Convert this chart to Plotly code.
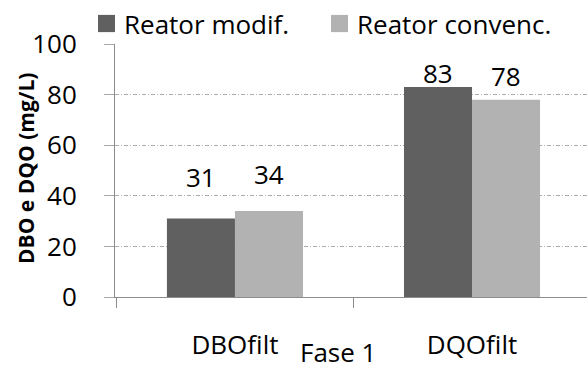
import plotly.graph_objects as go

# Filtered BOD / COD for the two reactors, phase 1
categories = ["DBOfilt", "DQOfilt"]
series_names = ["Reator modif.", "Reator convenc."]
series_colors = ["#606060", "#b2b2b2"]
reator_modif = [31, 83]
reator_convenc = [34, 78]
# vertical placement (data units) of the value labels, per series
label_y_modif = [47.6, 88.6]
label_y_convenc = [48.8, 87.4]
y_ticks = [0, 20, 40, 60, 80, 100]

FONT = "Open Sans"
TEXT = "#000000"
SIZE = 26
AXIS_GREY = "#8c8c8c"

fig = go.Figure()
for name, vals, col in zip(series_names, [reator_modif, reator_convenc], series_colors):
    fig.add_trace(go.Bar(name=name, x=categories, y=vals,
                         marker=dict(color=col, line=dict(width=0))))

# value labels above each bar
for vals, ys, shift in [(reator_modif, label_y_modif, -34),
                        (reator_convenc, label_y_convenc, 34)]:
    for cat, v, yy in zip(categories, vals, ys):
        fig.add_annotation(x=cat, y=yy, text=str(v), showarrow=False, xshift=shift,
                           yanchor="middle", font=dict(family=FONT, size=SIZE, color=TEXT))

# legend row drawn above the plot: square swatch + series name
legend_x = [(-0.036, 0.0), (0.4576, 0.4936)]
for (x0, x1), name, col in zip(legend_x, series_names, series_colors):
    fig.add_shape(type="rect", xref="paper", yref="paper", x0=x0, x1=x1,
                  y0=1.047, y1=1.115, fillcolor=col, line=dict(width=0))
    fig.add_annotation(xref="paper", yref="paper", x=x1 + 0.014, y=1.081,
                       xanchor="left", yanchor="middle", text=name, showarrow=False,
                       font=dict(family=FONT, size=SIZE, color=TEXT))

# y-axis title, rotated, left of the tick labels
fig.add_annotation(xref="paper", yref="paper", x=-0.1886, y=0.51, textangle=-90,
                   text="<b>DBO e DQO (mg/L)</b>", showarrow=False,
                   xanchor="center", yanchor="middle",
                   font=dict(family=FONT, size=21, color=TEXT))

fig.add_annotation(xref="paper", yref="paper", x=0.472, y=-0.218,
                   text="Fase 1", showarrow=False, yanchor="middle",
                   font=dict(family=FONT, size=SIZE, color=TEXT))

fig.update_layout(
    width=587, height=369,
    margin=dict(l=115, r=0, t=44, b=72),
    paper_bgcolor="white", plot_bgcolor="white",
    barmode="group", bargap=0.426, bargroupgap=0,
    font=dict(family=FONT, size=SIZE, color=TEXT),
    showlegend=False,
    xaxis=dict(range=[-0.506, 1.485], showline=True, linecolor=AXIS_GREY, linewidth=1,
               ticks="outside", tickson="boundaries", ticklen=10, tickcolor=AXIS_GREY,
               ticklabelstandoff=25, showgrid=False,
               tickfont=dict(family=FONT, size=SIZE, color=TEXT)),
    yaxis=dict(range=[0, 100], tickvals=y_ticks, showline=True, linecolor=AXIS_GREY,
               linewidth=1, ticks="outside", ticklen=10, tickcolor="#a8a8a8",
               showgrid=True, gridcolor="#ababab", griddash="4px,2px,1px,2px", gridwidth=1,
               zeroline=False, ticklabelstandoff=22,
               tickfont=dict(family=FONT, size=SIZE, color=TEXT)),
)

fig.write_html("out.html")
